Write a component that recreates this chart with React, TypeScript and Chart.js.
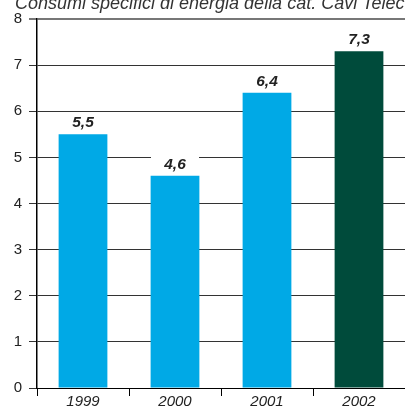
import React, { useEffect, useRef } from "react";
import { Chart, registerables } from "chart.js";

Chart.register(...registerables);

const TITLE = "Consumi specifici di energia della cat. Cavi Telecom";
const years = ["1999", "2000", "2001", "2002"];
const values = [5.5, 4.6, 6.4, 7.3];
const barColors = ["#00A9E6", "#00A9E6", "#00A9E6", "#004B3B"];
const Y_MIN = 0;
const Y_MAX = 8;
const Y_STEP = 1;

const FONT = "'Liberation Sans', Arial, sans-serif";

const titlePlugin = {
  id: "customTitle",
  afterDraw(chart: any) {
    const ctx = chart.ctx;
    ctx.save();
    ctx.font = `italic 18px ${FONT}`;
    ctx.fillStyle = "#333";
    ctx.textBaseline = "alphabetic";
    ctx.textAlign = "left";
    ctx.fillText(TITLE, 15, 9);
    ctx.restore();
  },
};

const valueLabelPlugin = {
  id: "valueLabels",
  afterDatasetsDraw(chart: any) {
    const ctx = chart.ctx;
    const meta = chart.getDatasetMeta(0);
    ctx.save();
    ctx.font = `italic bold 15.5px ${FONT}`;
    ctx.textAlign = "center";
    ctx.textBaseline = "alphabetic";
    meta.data.forEach((bar: any, i: number) => {
      const txt = values[i].toFixed(1).replace(".", ",");
      const x = bar.x;
      const y = bar.y - 7;
      ctx.fillStyle = "#ffffff";
      ctx.fillRect(x - 24, y - 15, 48, 18);
      ctx.fillStyle = "#222";
      ctx.fillText(txt, x, y);
    });
    ctx.restore();
  },
};

export default function App() {
  const ref = useRef<HTMLCanvasElement | null>(null);
  useEffect(() => {
    if (!ref.current) return;
    const chart = new Chart(ref.current, {
      type: "bar",
      data: {
        labels: years,
        datasets: [
          {
            data: values,
            backgroundColor: barColors,
            borderWidth: 0,
            barPercentage: 0.53,
            categoryPercentage: 1,
          },
        ],
      },
      options: {
        animation: false,
        responsive: false,
        maintainAspectRatio: false,
        layout: { padding: { top: 19, right: 0, left: 0, bottom: 0 } },
        plugins: {
          legend: { display: false },
          title: { display: false },
          tooltip: { enabled: false },
        },
        scales: {
          x: {
            offset: true,
            grid: {
              offset: true,
              drawOnChartArea: false,
              drawTicks: true,
              tickLength: 8,
              color: "#000",
              lineWidth: 1,
            },
            border: { display: true, color: "#000", width: 1 },
            ticks: {
              color: "#222",
              font: { family: FONT, size: 15, style: "italic" },
              padding: -3,
              maxRotation: 0,
            },
            afterFit: (s: any) => {
              s.height = 20;
            },
          },
          y: {
            min: Y_MIN,
            max: Y_MAX,
            ticks: {
              stepSize: Y_STEP,
              color: "#222",
              font: { family: FONT, size: 15 },
              padding: 7,
            },
            grid: {
              tickLength: 8,
              color: (c: any) => (c.tick && c.tick.value === Y_MAX ? "#777" : "#333"),
              lineWidth: (c: any) => (c.tick && c.tick.value === Y_MAX ? 2 : 1),
            },
            border: { display: true, color: "#000", width: 1.5 },
            afterFit: (s: any) => {
              s.width = 37;
            },
          },
        },
      },
      plugins: [valueLabelPlugin, titlePlugin],
    });
    return () => chart.destroy();
  }, []);
  return (
    <div style={{ position: "fixed", left: 0, top: 0, width: 405, height: 408, background: "#fff" }}>
      <canvas ref={ref} width={405} height={408} style={{ display: "block", width: 405, height: 408 }} />
    </div>
  );
}
